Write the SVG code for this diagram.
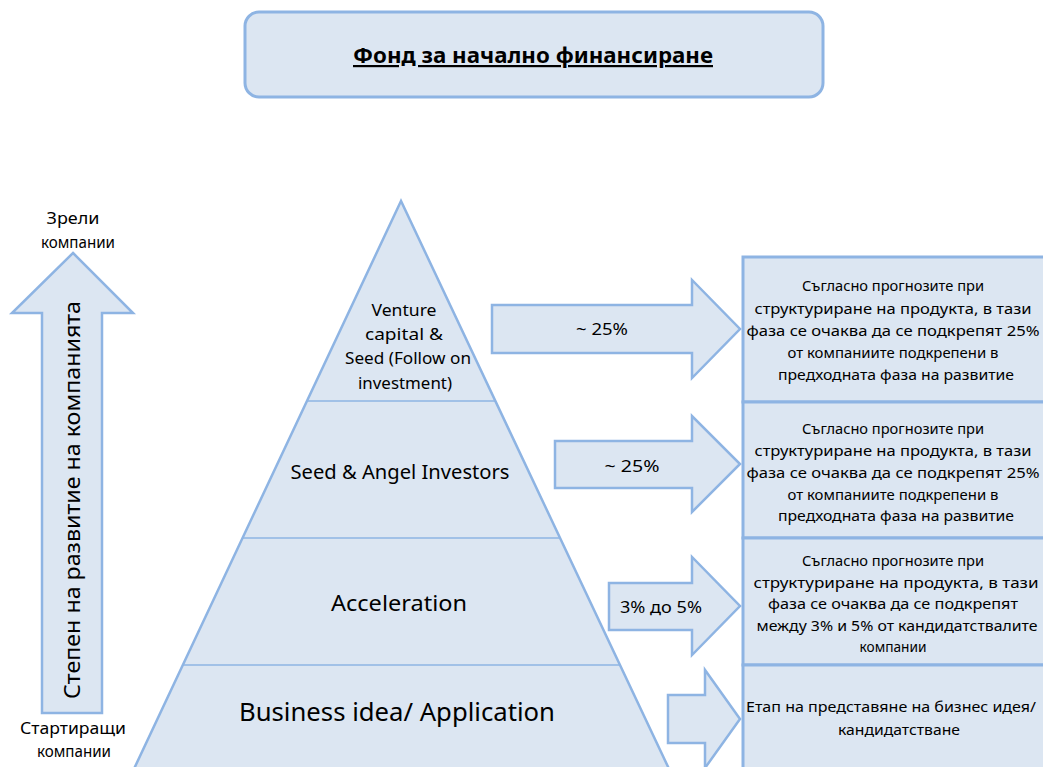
<svg xmlns="http://www.w3.org/2000/svg" width="1043" height="767" viewBox="0 0 1043 767">
  <style>
    .shape { fill: #DCE6F2; stroke: #8EB4E3; stroke-width: 2.5; stroke-linejoin: miter; }
    .box { fill: #DCE6F2; stroke: #8EB4E3; stroke-width: 3; }
    .divider { stroke: #8EB4E3; stroke-width: 1.5; fill: none; }
    text { font-family: "Noto Sans", "Open Sans", "DejaVu Sans", sans-serif; fill: #000; text-anchor: middle; }
    .side { font-size: 16.5px; }
    .body { font-size: 15px; }
    .lbl { font-size: 16px; }
  </style>

  <rect width="1043" height="767" fill="#ffffff"/>

  <!-- heading -->
  <g id="title">
    <rect class="box" x="245" y="12" width="578" height="85" rx="14" ry="14"/>
    <text x="533" y="63" font-size="22" font-weight="bold" text-decoration="underline" textLength="360" lengthAdjust="spacingAndGlyphs">Фонд за начално финансиране</text>
  </g>

  <!-- development scale on the left -->
  <g id="growth-arrow">
    <polygon class="shape" points="73,253 133,313 102,313 102,713 42,713 42,313 12,313"/>
    <text transform="translate(80,500) rotate(-90)" font-size="22" textLength="398" lengthAdjust="spacingAndGlyphs">Степен на развитие на компанията</text>
    <text class="side" x="73" y="224" textLength="53" lengthAdjust="spacingAndGlyphs">Зрели</text>
    <text class="side" x="78" y="248" textLength="74" lengthAdjust="spacingAndGlyphs">компании</text>
    <text class="side" x="73" y="734" textLength="106" lengthAdjust="spacingAndGlyphs">Стартиращи</text>
    <text class="side" x="74" y="757" textLength="74" lengthAdjust="spacingAndGlyphs">компании</text>
  </g>

  <!-- funding pyramid -->
  <g id="pyramid">
    <polygon class="shape" points="401,201 133,771 670,771"/>
    <line class="divider" x1="307" y1="401" x2="495" y2="401"/>
    <line class="divider" x1="243" y1="538" x2="559" y2="538"/>
    <line class="divider" x1="182" y1="665" x2="619" y2="665"/>
  </g>
  <g id="tier-venture">
    <text font-size="17" x="404" y="316" textLength="65" lengthAdjust="spacingAndGlyphs">Venture</text>
    <text font-size="17" x="404" y="340" textLength="78" lengthAdjust="spacingAndGlyphs">capital &amp;</text>
    <text font-size="17" x="408" y="364" textLength="126" lengthAdjust="spacingAndGlyphs">Seed (Follow on</text>
    <text font-size="17" x="405" y="389" textLength="94" lengthAdjust="spacingAndGlyphs">investment)</text>
  </g>
  <g id="tier-seed">
    <text font-size="20.5" x="400" y="479" textLength="219" lengthAdjust="spacingAndGlyphs">Seed &amp; Angel Investors</text>
  </g>
  <g id="tier-acceleration">
    <text font-size="22.5" x="399" y="611" textLength="136" lengthAdjust="spacingAndGlyphs">Acceleration</text>
  </g>
  <g id="tier-idea">
    <text font-size="24.5" x="397" y="721" textLength="316" lengthAdjust="spacingAndGlyphs">Business idea/ Application</text>
  </g>

  <!-- block arrows from each tier to its description -->
  <g id="connectors">
    <polygon class="shape" points="492,305 692,305 692,280 740,329 692,378 692,353 492,353"/>
    <text class="lbl" x="602" y="335" textLength="52" lengthAdjust="spacingAndGlyphs">~ 25%</text>
    <polygon class="shape" points="555,441 692,441 692,416 740,464 692,512 692,488 555,488"/>
    <text class="lbl" x="632" y="472" textLength="55" lengthAdjust="spacingAndGlyphs">~ 25%</text>
    <polygon class="shape" points="609,583 692,583 692,557 740,606 692,655 692,630 609,630"/>
    <text class="lbl" x="661" y="613" textLength="82" lengthAdjust="spacingAndGlyphs">3% до 5%</text>
    <polygon class="shape" points="668,695 705,695 705,670 740,719 705,768 705,743 668,743"/>
  </g>

  <!-- descriptions -->
  <g id="desc-venture">
    <rect class="box" x="743" y="257" width="310" height="145"/>
    <text class="body" x="893" y="291" textLength="182" lengthAdjust="spacingAndGlyphs">Съгласно прогнозите при</text>
    <text class="body" x="893" y="314" textLength="277" lengthAdjust="spacingAndGlyphs">структуриране на продукта, в тази</text>
    <text class="body" x="893" y="336" textLength="293" lengthAdjust="spacingAndGlyphs">фаза се очаква да се подкрепят 25%</text>
    <text class="body" x="893" y="358" textLength="211" lengthAdjust="spacingAndGlyphs">от компаниите подкрепени в</text>
    <text class="body" x="896" y="380" textLength="236" lengthAdjust="spacingAndGlyphs">предходната фаза на развитие</text>
  </g>
  <g id="desc-seed">
    <rect class="box" x="743" y="402" width="310" height="136"/>
    <text class="body" x="893" y="434" textLength="182" lengthAdjust="spacingAndGlyphs">Съгласно прогнозите при</text>
    <text class="body" x="893" y="456" textLength="277" lengthAdjust="spacingAndGlyphs">структуриране на продукта, в тази</text>
    <text class="body" x="893" y="478" textLength="293" lengthAdjust="spacingAndGlyphs">фаза се очаква да се подкрепят 25%</text>
    <text class="body" x="893" y="500" textLength="211" lengthAdjust="spacingAndGlyphs">от компаниите подкрепени в</text>
    <text class="body" x="896" y="521" textLength="236" lengthAdjust="spacingAndGlyphs">предходната фаза на развитие</text>
  </g>
  <g id="desc-acceleration">
    <rect class="box" x="743" y="538" width="310" height="127"/>
    <text class="body" x="893" y="566" textLength="182" lengthAdjust="spacingAndGlyphs">Съгласно прогнозите при</text>
    <text class="body" x="896" y="588" textLength="285" lengthAdjust="spacingAndGlyphs">структуриране на продукта,  в тази</text>
    <text class="body" x="893" y="609" textLength="250" lengthAdjust="spacingAndGlyphs">фаза се очаква да се подкрепят</text>
    <text class="body" x="897" y="631" textLength="281" lengthAdjust="spacingAndGlyphs">между 3% и 5% от кандидатствалите</text>
    <text class="body" x="893" y="652" textLength="67" lengthAdjust="spacingAndGlyphs">компании</text>
  </g>
  <g id="desc-idea">
    <rect class="box" x="743" y="665" width="310" height="110"/>
    <text class="body" x="891" y="712" textLength="290" lengthAdjust="spacingAndGlyphs">Етап на представяне на бизнес идея/</text>
    <text class="body" x="899" y="735" textLength="122" lengthAdjust="spacingAndGlyphs">кандидатстване</text>
  </g>
</svg>
